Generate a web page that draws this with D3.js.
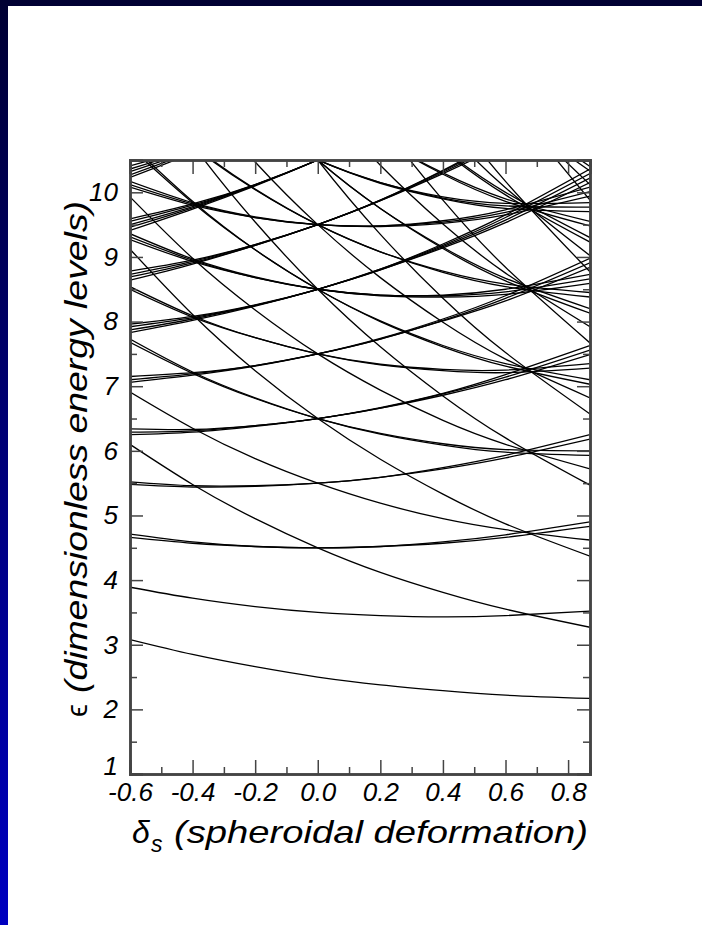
<!DOCTYPE html>
<html>
<head>
<meta charset="utf-8">
<script src="https://cdnjs.cloudflare.com/ajax/libs/d3/7.8.5/d3.min.js"></script>
<style>
  body { margin: 0; padding: 0; background: #fff; }
  svg { display: block; }
  .tick text { font-family: "Liberation Sans", Arial, sans-serif; font-style: italic; font-size: 26px; fill: #000; }
  .axis path, .axis line { stroke: #444; }
</style>
</head>
<body>
<svg id="chart"></svg>
<script>
const deformation = [-0.6, -0.4, -0.2, 0.0, 0.2, 0.4, 0.6, 0.87];

// Energy levels, grouped by shell (each group: its nearly degenerate lines)
// nz = 1 family
const z1_p1 = [[3.08, 2.85, 2.66, 2.50, 2.38, 2.29, 2.22, 2.17]];
const z1_p2 = [[3.89, 3.72, 3.59, 3.50, 3.45, 3.43, 3.45, 3.52]];
const z1_p3 = [
  [4.71, 4.59, 4.52, 4.50, 4.52, 4.57, 4.66, 4.83],
  [4.66, 4.57, 4.52, 4.50, 4.52, 4.59, 4.70, 4.90]];
const z1_p4 = [
  [5.52, 5.46, 5.46, 5.50, 5.59, 5.72, 5.89, 6.18],
  [5.48, 5.44, 5.45, 5.50, 5.59, 5.74, 5.93, 6.25]];
const z1_p5 = [
  [6.34, 6.33, 6.39, 6.50, 6.66, 6.86, 7.10, 7.49],
  [6.29, 6.31, 6.39, 6.50, 6.66, 6.88, 7.14, 7.56],
  [6.25, 6.29, 6.38, 6.50, 6.67, 6.89, 7.18, 7.63]];
const z1_p6 = [
  [7.15, 7.21, 7.32, 7.50, 7.73, 8.01, 8.32, 8.84],
  [7.10, 7.19, 7.32, 7.50, 7.73, 8.02, 8.36, 8.91],
  [7.06, 7.17, 7.31, 7.50, 7.74, 8.04, 8.40, 8.98]];
const z1_p7 = [
  [7.96, 8.08, 8.26, 8.50, 8.80, 9.14, 9.53, 10.15],
  [7.92, 8.06, 8.25, 8.50, 8.80, 9.16, 9.57, 10.22],
  [7.87, 8.04, 8.25, 8.50, 8.81, 9.18, 9.61, 10.29],
  [7.83, 8.02, 8.24, 8.50, 8.81, 9.20, 9.65, 10.36]];
const z1_p8 = [
  [8.78, 8.95, 9.19, 9.50, 9.87, 10.29, 10.76, 11.50],
  [8.73, 8.93, 9.19, 9.50, 9.87, 10.31, 10.80, 11.57],
  [8.69, 8.91, 9.18, 9.50, 9.88, 10.33, 10.84, 11.64],
  [8.64, 8.89, 9.18, 9.50, 9.88, 10.34, 10.88, 11.71]];
const z1_p9 = [
  [9.59, 9.82, 10.12, 10.50, 10.94, 11.43, 11.97, 12.82],
  [9.55, 9.80, 10.12, 10.50, 10.94, 11.45, 12.01, 12.89],
  [9.50, 9.78, 10.11, 10.50, 10.95, 11.46, 12.05, 12.96],
  [9.46, 9.76, 10.11, 10.50, 10.95, 11.48, 12.09, 13.03],
  [9.41, 9.74, 10.10, 10.50, 10.96, 11.50, 12.13, 13.10]];
const z1_p10 = [
  [10.41, 10.69, 11.06, 11.50, 12.01, 12.58, 13.20, 14.16],
  [10.36, 10.67, 11.05, 11.50, 12.01, 12.59, 13.24, 14.23],
  [10.32, 10.65, 11.05, 11.50, 12.02, 12.61, 13.28, 14.30],
  [10.27, 10.63, 11.04, 11.50, 12.02, 12.63, 13.32, 14.37],
  [10.23, 10.61, 11.04, 11.50, 12.03, 12.65, 13.36, 14.44]];

// nz = 3 family
const z3_p1 = [[6.10, 5.48, 4.95, 4.50, 4.12, 3.81, 3.55, 3.27]];
const z3_p2 = [[6.91, 6.35, 5.88, 5.50, 5.19, 4.95, 4.78, 4.62]];
const z3_p3 = [
  [7.73, 7.22, 6.82, 6.50, 6.26, 6.09, 5.98, 5.93],
  [7.68, 7.20, 6.81, 6.50, 6.27, 6.11, 6.02, 6.00]];
const z3_p4 = [
  [8.54, 8.09, 7.75, 7.50, 7.33, 7.24, 7.21, 7.28],
  [8.50, 8.07, 7.75, 7.50, 7.34, 7.26, 7.25, 7.35]];
const z3_p5 = [
  [9.36, 8.97, 8.69, 8.50, 8.40, 8.38, 8.42, 8.59],
  [9.31, 8.95, 8.68, 8.50, 8.41, 8.40, 8.46, 8.66],
  [9.27, 8.93, 8.68, 8.50, 8.41, 8.41, 8.50, 8.73]];
const z3_p6 = [
  [10.17, 9.84, 9.62, 9.50, 9.47, 9.52, 9.65, 9.94],
  [10.12, 9.82, 9.61, 9.50, 9.48, 9.54, 9.69, 10.01],
  [10.08, 9.80, 9.61, 9.50, 9.48, 9.56, 9.73, 10.08]];
const z3_p7 = [
  [10.98, 10.71, 10.55, 10.50, 10.54, 10.66, 10.86, 11.25],
  [10.94, 10.69, 10.55, 10.50, 10.55, 10.68, 10.90, 11.32],
  [10.89, 10.67, 10.54, 10.50, 10.55, 10.70, 10.94, 11.39],
  [10.85, 10.65, 10.54, 10.50, 10.56, 10.72, 10.98, 11.46]];

// nz = 5 family
const z5_p1 = [[9.12, 8.11, 7.24, 6.50, 5.87, 5.33, 4.87, 4.37]];
const z5_p2 = [[9.93, 8.98, 8.18, 7.50, 6.94, 6.47, 6.10, 5.72]];
const z5_p3 = [
  [10.75, 9.86, 9.11, 8.50, 8.00, 7.61, 7.31, 7.03],
  [10.70, 9.84, 9.11, 8.50, 8.01, 7.63, 7.35, 7.10]];
const z5_p4 = [
  [11.56, 10.73, 10.05, 9.50, 9.08, 8.76, 8.54, 8.38],
  [11.52, 10.71, 10.04, 9.50, 9.08, 8.78, 8.58, 8.45]];
const z5_p5 = [
  [12.38, 11.60, 10.98, 10.50, 10.14, 9.90, 9.75, 9.70],
  [12.33, 11.58, 10.97, 10.50, 10.15, 9.91, 9.79, 9.77],
  [12.29, 11.56, 10.97, 10.50, 10.15, 9.93, 9.83, 9.84]];

// nz = 7 family
const z7_p1 = [[12.14, 10.74, 9.54, 8.50, 7.61, 6.85, 6.20, 5.47]];
const z7_p2 = [[12.96, 11.62, 10.47, 9.50, 8.68, 7.99, 7.42, 6.82]];
const z7_p3 = [
  [13.77, 12.49, 11.41, 10.50, 9.75, 9.13, 8.63, 8.13],
  [13.73, 12.47, 11.40, 10.50, 9.75, 9.15, 8.67, 8.20]];
const z7_p4 = [
  [14.59, 13.36, 12.34, 11.50, 10.82, 10.28, 9.86, 9.48],
  [14.55, 13.34, 12.34, 11.50, 10.82, 10.30, 9.90, 9.55]];

// nz = 9 .. 15 families
const z9_p1 = [[15.16, 13.37, 11.83, 10.50, 9.35, 8.36, 7.52, 6.57]];
const z9_p2 = [[15.98, 14.24, 12.77, 11.50, 10.42, 9.51, 8.75, 7.92]];
const z9_p3 = [
  [16.79, 15.12, 13.70, 12.50, 11.49, 10.65, 9.96, 9.23],
  [16.75, 15.10, 13.70, 12.50, 11.50, 10.67, 10.00, 9.30]];
const z11_p1 = [[18.18, 16.01, 14.12, 12.50, 11.09, 9.88, 8.84, 7.67]];
const z11_p2 = [[19.00, 16.88, 15.06, 13.50, 12.17, 11.03, 10.07, 9.02]];
const z11_p3 = [
  [19.81, 17.76, 15.99, 14.50, 13.23, 12.17, 11.28, 10.33],
  [19.77, 17.74, 15.99, 14.50, 13.24, 12.19, 11.32, 10.40]];
const z13_p1 = [[21.20, 18.64, 16.42, 14.50, 12.84, 11.40, 10.17, 8.77]];
const z13_p2 = [[22.02, 19.51, 17.36, 15.50, 13.91, 12.55, 11.40, 10.12]];
const z15_p1 = [[24.22, 21.27, 18.71, 16.50, 14.58, 12.92, 11.49, 9.88]];

// Axis ticks
const xMajorTicks = [-0.6, -0.4, -0.2, 0.0, 0.2, 0.4, 0.6, 0.8];
const xMinorTicks = [-0.5, -0.3, -0.1, 0.1, 0.3, 0.5, 0.7];
const yMajorTicks = [1, 2, 3, 4, 5, 6, 7, 8, 9, 10];
const yMinorTicks = [1.5, 2.5, 3.5, 4.5, 5.5, 6.5, 7.5, 8.5, 9.5];

const levelGroups = [
  z1_p1, z1_p2, z1_p3, z1_p4, z1_p5, z1_p6, z1_p7, z1_p8, z1_p9, z1_p10,
  z3_p1, z3_p2, z3_p3, z3_p4, z3_p5, z3_p6, z3_p7,
  z5_p1, z5_p2, z5_p3, z5_p4, z5_p5,
  z7_p1, z7_p2, z7_p3, z7_p4,
  z9_p1, z9_p2, z9_p3, z11_p1, z11_p2, z11_p3, z13_p1, z13_p2, z15_p1
];
const levelLines = levelGroups.flat();

// Define the dimensions
const w = 702;
const h = 925;
const plot = { left: 130, right: 590, top: 160, bottom: 774 };

const svg = d3.select("#chart")
  .attr("width", w)
  .attr("height", h);

// Background frame (dark blue border, white page)
const defs = svg.append("defs");
const grad = defs.append("linearGradient")
  .attr("id", "frameGrad")
  .attr("x1", 0).attr("y1", 0).attr("x2", 0).attr("y2", 1);
grad.append("stop").attr("offset", "0%").attr("stop-color", "#000033");
grad.append("stop").attr("offset", "100%").attr("stop-color", "#0000c0");

svg.append("rect")
  .attr("width", w).attr("height", h)
  .attr("fill", "url(#frameGrad)");
svg.append("rect")
  .attr("x", 8).attr("y", 6)
  .attr("width", w - 8).attr("height", h - 6)
  .attr("fill", "#fff");

defs.append("clipPath")
  .attr("id", "plotClip")
  .append("rect")
  .attr("x", plot.left).attr("y", plot.top)
  .attr("width", plot.right - plot.left)
  .attr("height", plot.bottom - plot.top);

// Create scales
const x = d3.scaleLinear()
  .domain([-0.6, 0.87])
  .range([plot.left, plot.right]);

const y = d3.scaleLinear()
  .domain([1, 10.5])
  .range([plot.bottom, plot.top]);

// Level curves
const line = d3.line()
  .x((d, i) => x(deformation[i]))
  .y(d => y(d))
  .curve(d3.curveNatural);

svg.append("g")
  .attr("clip-path", "url(#plotClip)")
  .selectAll("path")
  .data(levelLines)
  .enter()
  .append("path")
  .attr("d", line)
  .attr("fill", "none")
  .attr("stroke", "#000")
  .attr("stroke-width", 1.3);

// Axes (ticks point inwards on all four sides)
const fmt = d => d.toFixed(1);

svg.append("g")
  .attr("class", "axis")
  .attr("transform", `translate(0,${plot.bottom})`)
  .call(d3.axisBottom(x).tickValues(xMajorTicks).tickSize(-14).tickPadding(9).tickFormat(fmt));
svg.append("g")
  .attr("class", "axis")
  .attr("transform", `translate(0,${plot.bottom})`)
  .call(d3.axisBottom(x).tickValues(xMinorTicks).tickSize(-7).tickFormat(""));
svg.append("g")
  .attr("class", "axis")
  .attr("transform", `translate(0,${plot.top})`)
  .call(d3.axisTop(x).tickValues(xMajorTicks).tickSize(-14).tickFormat(""));
svg.append("g")
  .attr("class", "axis")
  .attr("transform", `translate(0,${plot.top})`)
  .call(d3.axisTop(x).tickValues(xMinorTicks).tickSize(-7).tickFormat(""));

svg.append("g")
  .attr("class", "axis")
  .attr("transform", `translate(${plot.left},0)`)
  .call(d3.axisLeft(y).tickValues(yMajorTicks).tickSize(-13).tickPadding(12).tickFormat(d3.format("d")));
svg.append("g")
  .attr("class", "axis")
  .attr("transform", `translate(${plot.left},0)`)
  .call(d3.axisLeft(y).tickValues(yMinorTicks).tickSize(-7).tickFormat(""));
svg.append("g")
  .attr("class", "axis")
  .attr("transform", `translate(${plot.right},0)`)
  .call(d3.axisRight(y).tickValues(yMajorTicks).tickSize(-13).tickFormat(""));
svg.append("g")
  .attr("class", "axis")
  .attr("transform", `translate(${plot.right},0)`)
  .call(d3.axisRight(y).tickValues(yMinorTicks).tickSize(-7).tickFormat(""));

svg.selectAll(".axis line").attr("stroke-width", 1.5);
svg.selectAll(".axis path.domain").attr("stroke-width", 2.5);

// the "1" label sits just above the corner, clear of "-0.6"
svg.selectAll(".tick text").filter(d => d === 1).attr("dy", "0.02em");

// Axis titles
const titleFont = "'Liberation Sans', Arial, sans-serif";

const xTitle = svg.append("g")
  .style("font-family", titleFont)
  .style("font-style", "italic")
  .attr("fill", "#000");
xTitle.append("text")
  .attr("x", 132).attr("y", 843)
  .style("font-size", "32px")
  .text("δ");
xTitle.append("text")
  .attr("x", 151).attr("y", 852)
  .style("font-size", "23px")
  .text("s");
xTitle.append("text")
  .attr("x", 174).attr("y", 843)
  .style("font-size", "32px")
  .attr("textLength", 414)
  .attr("lengthAdjust", "spacingAndGlyphs")
  .text("(spheroidal deformation)");

const yTitle = svg.append("g")
  .attr("transform", "translate(87,0) rotate(-90)")
  .style("font-family", titleFont)
  .attr("fill", "#000");
yTitle.append("text")
  .attr("x", -717).attr("y", 0)
  .style("font-size", "29px")
  .text("ϵ");
yTitle.append("text")
  .attr("x", -693).attr("y", 0)
  .style("font-size", "32px")
  .style("font-style", "italic")
  .attr("textLength", 492)
  .attr("lengthAdjust", "spacingAndGlyphs")
  .text("(dimensionless energy levels)");
</script>
</body>
</html>
